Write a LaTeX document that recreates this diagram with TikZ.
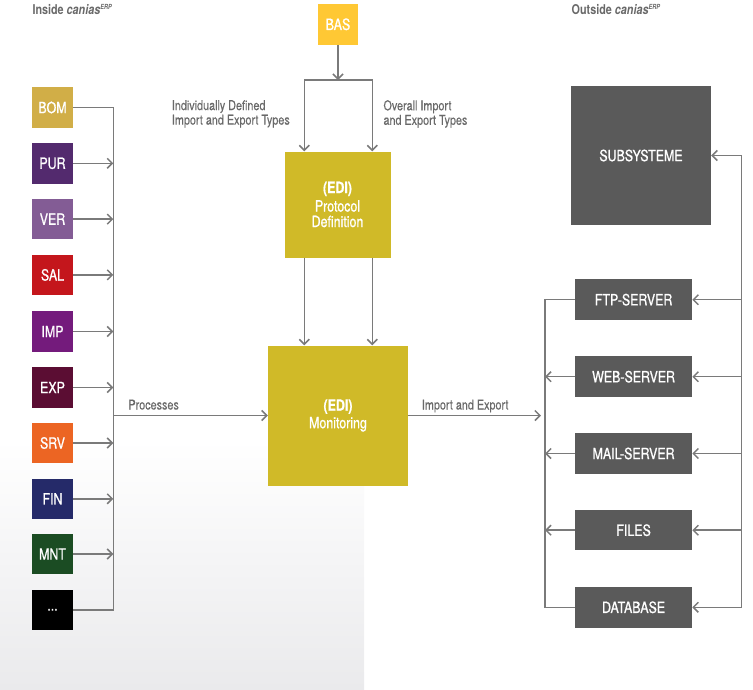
\documentclass[tikz,border=0pt]{standalone}
\usepackage{fontspec}
\setmainfont{TeX Gyre Heros}[FakeStretch=0.8]
\newfontfamily\medfont{TeX Gyre Heros}[FakeStretch=0.8,FakeBold=0.9]
\newfontfamily\lblfont{TeX Gyre Heros}[FakeStretch=0.8,FakeBold=0.4]
\usetikzlibrary{arrows.meta}
\definecolor{linegray}{RGB}{122,122,122}
\definecolor{lblgray}{RGB}{105,105,105}
\definecolor{srvgray}{RGB}{90,90,90}
\definecolor{bgg}{RGB}{234,234,236}
\definecolor{edi}{RGB}{208,186,40}
\definecolor{bascol}{RGB}{255,200,52}
\definecolor{cBOM}{RGB}{209,174,71}
\definecolor{cPUR}{RGB}{83,42,110}
\definecolor{cVER}{RGB}{131,92,149}
\definecolor{cSAL}{RGB}{196,22,28}
\definecolor{cIMP}{RGB}{116,27,124}
\definecolor{cEXP}{RGB}{91,13,51}
\definecolor{cSRV}{RGB}{236,101,35}
\definecolor{cFIN}{RGB}{37,42,105}
\definecolor{cMNT}{RGB}{27,76,35}
\begin{document}
\begin{tikzpicture}[x=1pt,y=-1pt,
  >={Straight Barb[length=5pt,width=10pt]},
  modbox/.style={minimum width=40.5pt,minimum height=40.5pt,inner sep=0pt,text=white,font=\medfont\fontsize{15.5}{18}\selectfont},
  srvbox/.style={fill=srvgray,minimum width=117pt,minimum height=40.5pt,inner sep=0pt,text=white,font=\medfont\fontsize{15.5}{18}\selectfont},
  edibox/.style={fill=edi,inner sep=0pt,text=white,align=center,font=\medfont\fontsize{15.5}{15.5}\selectfont},
  lbl/.style={text=lblgray,inner sep=0pt,align=left,font=\lblfont\fontsize{13.5}{14.5}\selectfont},
  ttl/.style={text=lblgray,inner sep=0pt,anchor=base west,font=\fontsize{13.5}{15}\selectfont\bfseries},
  conn/.style={draw=linegray,line width=1.5pt}]
\useasboundingbox (0,0) rectangle (753,689);
\shade[top color=white,bottom color=bgg] (0,440) rectangle (364,689);

% titles
\node[ttl] (tin) at (32.3,14.5) {Inside {\itshape canias\textsuperscript{\fontsize{7}{7}\selectfont ERP}}};
\node[ttl] (tout) at (571.5,14.5) {Outside {\itshape canias\textsuperscript{\fontsize{7}{7}\selectfont ERP}}};

% left modules
\node[modbox,fill=cBOM] (bom) at (52.5,107.5) {BOM};
\node[modbox,fill=cPUR] (pur) at (52.5,163.3) {PUR};
\node[modbox,fill=cVER] (ver) at (52.5,219.1) {VER};
\node[modbox,fill=cSAL] (sal) at (52.5,274.9) {SAL};
\node[modbox,fill=cIMP] (imp) at (52.5,331.5) {IMP};
\node[modbox,fill=cEXP] (exp) at (52.5,387.5) {EXP};
\node[modbox,fill=cSRV] (srv) at (52.5,443) {SRV};
\node[modbox,fill=cFIN] (fin) at (52.5,498.8) {FIN};
\node[modbox,fill=cMNT] (mnt) at (52.5,554) {MNT};
\node[modbox,fill=black] (dots) at (52.5,609.8) {...};
\coordinate (lbus) at (113.3,400);

% centre
\node[modbox,fill=bascol] (bas) at (338,24.3) {BAS};
\node[edibox,minimum width=106pt,minimum height=106pt] (proto) at (337.5,204.5) {{\bfseries (EDI)}\\[3pt]Protocol\\Definition};
\node[edibox,minimum width=140pt,minimum height=140pt] (mon) at (338,415.5) {{\bfseries (EDI)}\\[2pt]Monitoring};
\coordinate (sL) at (304.3,80);
\coordinate (sR) at (372.3,80);

% right
\node[srvbox,minimum width=140pt,minimum height=139pt] (sub) at (641,155.5) {SUBSYSTEME};
\node[srvbox] (ftp) at (633.6,299.7) {FTP-SERVER};
\node[srvbox] (web) at (633.6,376.7) {WEB-SERVER};
\node[srvbox] (mail) at (633.6,453.5) {MAIL-SERVER};
\node[srvbox] (files) at (633.6,530.2) {FILES};
\node[srvbox] (db) at (633.6,607.3) {DATABASE};
\coordinate (rbusL) at (545,450);
\coordinate (rbusR) at (741.7,450);

% labels
\node[lbl,anchor=north west] (lind) at (171.7,100) {Individually Defined\\Import and Export Types};
\node[lbl,anchor=north west] (lall) at (383.3,100) {Overall Import\\and Export Types};
\node[lbl,anchor=base west] (lproc) at (128.3,409.5) {Processes};
\node[lbl,anchor=base west] (limex) at (421.7,409.5) {Import and Export};

% left connectors
\draw[conn] (bom.east) -| (lbus) |- (dots.east);
\foreach \n in {pur,ver,sal,imp,exp,srv,fin,mnt}
  \draw[conn,->] (\n.east) -- (\n.east -| lbus);
\draw[conn,->] (lbus |- mon.west) -- (mon.west);

% centre connectors
\draw[conn,->] (bas.south) -- (bas.south |- sL);
\draw[conn,<->] (sL |- proto.north) -- (sL) -- (sR) -- (sR |- proto.north);
\draw[conn,->] (sL |- proto.south) -- (sL |- mon.north);
\draw[conn,->] (sR |- proto.south) -- (sR |- mon.north);
\draw[conn,->,shorten >=4pt] (mon.east) -- (mon.east -| rbusL);

% right connectors
\draw[conn] (ftp.west) -| (rbusL) |- (db.west);
\foreach \n in {web,mail,files}
  \draw[conn,->] (\n.west) -- (\n.west -| rbusL);
\draw[conn] (sub.east -| rbusR) -- (db.east -| rbusR);
\foreach \n in {sub,ftp,web,mail,files,db}
  \draw[conn,->] (\n.east -| rbusR) -- (\n.east);
\end{tikzpicture}
\end{document}
